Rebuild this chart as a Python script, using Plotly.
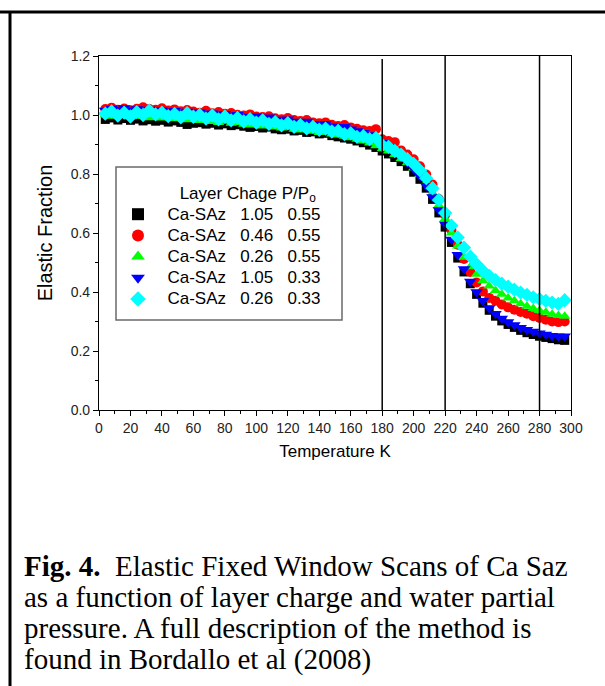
import plotly.graph_objects as go

temperature = [4, 8, 12, 16, 20, 24, 28, 32, 36, 40, 44, 48, 52, 56, 60, 64, 68, 72, 76, 80,
               84, 88, 92, 96, 100, 104, 108, 112, 116, 120, 124, 128, 132, 136, 140, 144, 148, 152, 156, 160,
               164, 168, 172, 176, 180, 184, 188, 192, 196, 200, 204, 208, 212, 216, 220, 224, 228, 232, 236, 240,
               244, 248, 252, 256, 260, 264, 268, 272, 276, 280, 284, 288, 292, 296]

black_105_055 = [0.985, 0.990, 0.983, 0.988, 0.982, 0.986, 0.980, 0.984, 0.979, 0.982, 0.976, 0.980, 0.975, 0.968, 0.972, 0.974, 0.969, 0.972, 0.966, 0.970,
                 0.964, 0.967, 0.962, 0.958, 0.961, 0.956, 0.959, 0.953, 0.950, 0.952, 0.946, 0.948, 0.941, 0.943, 0.936, 0.938, 0.930, 0.926, 0.922, 0.918,
                 0.912, 0.906, 0.898, 0.890, 0.878, 0.868, 0.856, 0.842, 0.826, 0.806, 0.782, 0.752, 0.714, 0.668, 0.620, 0.568, 0.515, 0.468, 0.428, 0.392,
                 0.362, 0.338, 0.318, 0.302, 0.290, 0.280, 0.270, 0.262, 0.256, 0.250, 0.246, 0.242, 0.238, 0.236]

red_046_055 = [1.020, 1.025, 1.018, 1.022, 1.016, 1.021, 1.026, 1.020, 1.018, 1.023, 1.015, 1.019, 1.013, 1.017, 1.012, 1.008, 1.014, 1.006, 1.010, 1.004,
               1.007, 1.001, 0.998, 1.002, 0.995, 0.993, 0.996, 0.989, 0.986, 0.990, 0.983, 0.980, 0.983, 0.975, 0.972, 0.975, 0.967, 0.963, 0.966, 0.958,
               0.953, 0.948, 0.946, 0.952, 0.918, 0.912, 0.908, 0.880, 0.866, 0.850, 0.826, 0.798, 0.764, 0.715, 0.662, 0.610, 0.560, 0.512, 0.468, 0.432,
               0.402, 0.380, 0.370, 0.358, 0.348, 0.340, 0.332, 0.326, 0.318, 0.312, 0.306, 0.300, 0.298, 0.300]

green_026_055 = [1.000, 0.996, 1.003, 0.998, 0.994, 1.000, 0.995, 0.991, 0.996, 0.990, 0.993, 0.987, 0.990, 0.984, 0.987, 0.981, 0.984, 0.978, 0.975, 0.979,
                 0.972, 0.975, 0.969, 0.966, 0.970, 0.963, 0.966, 0.959, 0.956, 0.959, 0.952, 0.949, 0.952, 0.945, 0.941, 0.944, 0.936, 0.932, 0.928, 0.923,
                 0.918, 0.912, 0.905, 0.896, 0.886, 0.878, 0.866, 0.852, 0.838, 0.820, 0.798, 0.770, 0.736, 0.694, 0.648, 0.600, 0.556, 0.518, 0.486, 0.460,
                 0.438, 0.420, 0.405, 0.392, 0.380, 0.370, 0.360, 0.352, 0.344, 0.337, 0.331, 0.325, 0.320, 0.318]

blue_105_033 = [1.015, 1.022, 1.018, 1.024, 1.016, 1.020, 1.014, 1.019, 1.012, 1.016, 1.010, 1.014, 1.008, 1.012, 1.005, 1.009, 1.003, 1.006, 1.000, 1.004,
                0.998, 1.001, 0.995, 0.992, 0.996, 0.989, 0.992, 0.985, 0.982, 0.986, 0.978, 0.975, 0.978, 0.970, 0.967, 0.970, 0.962, 0.958, 0.960, 0.952,
                0.946, 0.940, 0.932, 0.922, 0.906, 0.892, 0.876, 0.860, 0.840, 0.818, 0.792, 0.760, 0.722, 0.678, 0.630, 0.578, 0.526, 0.478, 0.436, 0.400,
                0.370, 0.346, 0.326, 0.310, 0.298, 0.288, 0.279, 0.272, 0.266, 0.260, 0.256, 0.252, 0.250, 0.250]

cyan_026_033 = [1.005, 1.012, 0.998, 1.008, 0.995, 1.010, 1.000, 1.015, 1.002, 1.008, 0.996, 1.004, 0.992, 1.006, 0.994, 1.000, 0.988, 0.998, 0.985, 0.995,
                0.982, 0.990, 0.978, 0.986, 0.974, 0.982, 0.970, 0.976, 0.965, 0.972, 0.960, 0.966, 0.955, 0.960, 0.950, 0.954, 0.944, 0.946, 0.935, 0.938,
                0.926, 0.928, 0.918, 0.922, 0.898, 0.892, 0.878, 0.866, 0.850, 0.834, 0.812, 0.786, 0.752, 0.712, 0.668, 0.625, 0.585, 0.550, 0.520, 0.494,
                0.472, 0.455, 0.440, 0.428, 0.418, 0.408, 0.398, 0.390, 0.382, 0.376, 0.370, 0.364, 0.360, 0.372]

sample_name = ["Ca-SAz", "Ca-SAz", "Ca-SAz", "Ca-SAz", "Ca-SAz"]
layer_charge = ["1.05", "0.46", "0.26", "1.05", "0.26"]
pressure = ["0.55", "0.55", "0.55", "0.33", "0.33"]
series_values = [black_105_055, red_046_055, green_026_055, blue_105_033, cyan_026_033]
series_colors = ["#000000", "#FF0000", "#00FF00", "#0000FF", "#00FFFF"]
series_symbols = ["square", "circle", "triangle-up", "triangle-down", "diamond"]
series_sizes = [9, 10, 10, 11, 11]
marker_lines = [180, 220, 280]
marker_line_tops = [1.19, 1.2, 1.21]

legend_title = "Layer Chage P/P<sub>o</sub>"
caption_lines = ["<b>Fig. 4.</b>\u00a0\u00a0Elastic Fixed Window Scans of Ca Saz",
                 "as a function of layer charge and water partial",
                 "pressure. A full description of the method is",
                 "found in Bordallo et al (2008)"]

W, H = 605, 686
L, R, T, B = 99, 571, 56, 410
pw, ph = R - L, B - T
NB = "\u00a0"
SANS = "Liberation Sans, Arial, sans-serif"


def px(x):
    return (x - L) / pw


def py(y):
    return (B - y) / ph


def big(s, size=17):
    return "<span style='font-size:%dpx'>%s</span>" % (size, s)


fig = go.Figure()
for nm, lc, pp, vals, col, sym, sz in zip(sample_name, layer_charge, pressure, series_values,
                                          series_colors, series_symbols, series_sizes):
    label = NB * 2 + nm + NB * 3 + lc + NB * 3 + pp + NB * 3
    fig.add_trace(go.Scatter(
        x=temperature, y=vals, mode="markers", name=big(label),
        marker=dict(color=col, symbol=sym, size=sz, line=dict(width=0)),
    ))

shapes = []
for xv, top in zip(marker_lines, marker_line_tops):
    shapes.append(dict(type="line", xref="x", yref="y", x0=xv, x1=xv, y0=0, y1=top,
                       line=dict(color="black", width=1.5)))
# legend frame
shapes.append(dict(type="rect", xref="paper", yref="paper", x0=px(116), x1=px(342), y0=py(320), y1=py(167),
                   fillcolor="white", line=dict(color="#6a6a6a", width=1.5), layer="above"))
# page frame
shapes.append(dict(type="line", xref="paper", yref="paper", x0=px(0), x1=px(W), y0=py(12), y1=py(12),
                   line=dict(color="black", width=3)))
shapes.append(dict(type="line", xref="paper", yref="paper", x0=px(10), x1=px(10), y0=py(12), y1=py(H + 5),
                   line=dict(color="black", width=3)))

annotations = []
cap_y0 = 566
for i, line in enumerate(caption_lines):
    annotations.append(dict(xref="paper", yref="paper", x=px(22), y=py(cap_y0 + i * 31),
                            xanchor="left", yanchor="middle", showarrow=False, text=line,
                            font=dict(family="Liberation Serif, Times New Roman, serif", size=29, color="black")))

axis_font = dict(family=SANS, size=14, color="#222222")

fig.update_layout(
    width=W, height=H,
    margin=dict(l=L, r=W - R, t=T, b=H - B),
    paper_bgcolor="white", plot_bgcolor="white",
    font=dict(family=SANS, color="black"),
    showlegend=True,
    legend=dict(
        x=px(118), y=py(170), xanchor="left", yanchor="top",
        bgcolor="rgba(0,0,0,0)", borderwidth=0,
        font=dict(family=SANS, size=14, color="black"),
        title=dict(text=big(NB * 8 + legend_title), side="top center",
                   font=dict(family=SANS, size=22, color="black")),
        tracegroupgap=0, itemsizing="constant",
    ),
    xaxis=dict(range=[0, 300], tickmode="array", tickvals=list(range(0, 301, 20)),
               ticks="outside", ticklen=5, tickwidth=1, tickcolor="black",
               minor=dict(ticks="outside", ticklen=3, tickwidth=1, tickcolor="black", dtick=10),
               showline=True, linecolor="black", linewidth=1.2, mirror=True, showgrid=False, zeroline=False,
               tickfont=axis_font,
               title=dict(text="Temperature K", font=dict(family=SANS, size=17, color="black"),
                          standoff=10)),
    yaxis=dict(range=[0, 1.2], tickmode="array", tickvals=[0, 0.2, 0.4, 0.6, 0.8, 1.0, 1.2],
               ticktext=["0.0", "0.2", "0.4", "0.6", "0.8", "1.0", "1.2"],
               ticks="outside", ticklen=5, tickwidth=1, tickcolor="black",
               minor=dict(ticks="outside", ticklen=3, tickwidth=1, tickcolor="black", dtick=0.1),
               showline=True, linecolor="black", linewidth=1.2, mirror=True, showgrid=False, zeroline=False,
               tickfont=axis_font,
               title=dict(text="Elastic Fraction", font=dict(family=SANS, size=20, color="black"),
                          standoff=12)),
    shapes=shapes,
    annotations=annotations,
)

fig.write_html("out.html")
